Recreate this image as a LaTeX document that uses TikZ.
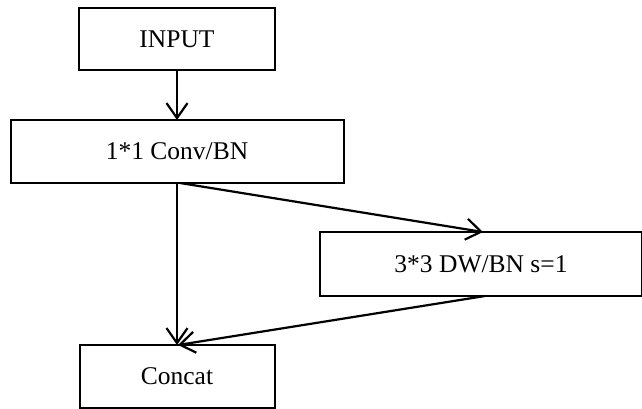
\documentclass[tikz,border=0pt]{standalone}
\usepackage{fontspec}
\setmainfont{Liberation Serif}
\usetikzlibrary{arrows.meta}

\tikzset{
  blk/.style={draw, line width=2pt, inner sep=0pt, outer sep=0pt,
    font=\fontsize{25.5}{30}\selectfont},
  flow/.style={line width=2.2pt, -{Straight Barb[length=15pt,width=21pt,line width=2.2pt]}}
}

\begin{document}
\begin{tikzpicture}[x=1pt, y=-1pt]

\useasboundingbox (0,0) rectangle (642,409);

\node[blk, minimum width=196pt, minimum height=62pt] (input)  at (177, 39)  {INPUT};
\node[blk, minimum width=333pt, minimum height=63pt] (conv)   at (177, 151.5) {1*1 Conv/BN};
\node[blk, minimum width=322pt, minimum height=64pt] (dw)     at (481, 264) {3*3 DW/BN s=1};
\node[blk, minimum width=195pt, minimum height=63pt] (concat) at (177, 376.5) {Concat};

\draw[flow] (input.south) -- (conv.north);
\draw[flow] (conv.south) -- (concat.north);
\draw[flow] ([xshift=3pt]conv.south) -- ([xshift=2pt]dw.north);
\draw[flow] ([xshift=4pt]dw.south) -- ([xshift=1pt]concat.north);

% -------- end -----------
\end{tikzpicture}
\end{document}
